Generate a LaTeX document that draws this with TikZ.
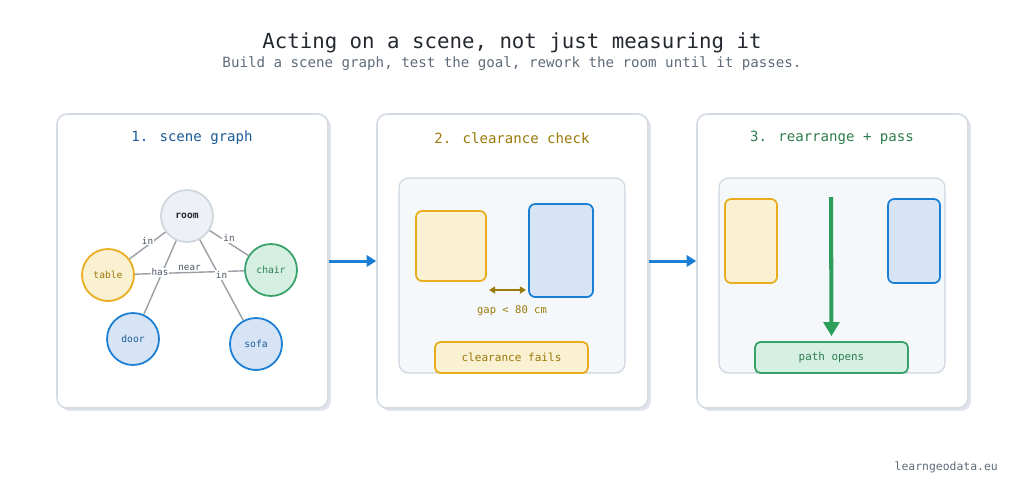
\documentclass[tikz,border=0pt]{standalone}
\usepackage{fontspec}
\setmainfont{DejaVu Sans Mono}
\usepackage{tikz}
\usetikzlibrary{arrows.meta, positioning}

\definecolor{inkdark}{HTML}{24292F}
\definecolor{inkgray}{HTML}{5F6B7A}
\definecolor{labelgray}{HTML}{4B5563}
\definecolor{bluedark}{HTML}{1A5C99}
\definecolor{goldtxt}{HTML}{9A7A0A}
\definecolor{greentxt}{HTML}{2E7D4F}
\definecolor{framec}{HTML}{D5DBE3}
\definecolor{shadowc}{HTML}{E1E4EA}
\definecolor{innerfill}{HTML}{F4F8FB}
\definecolor{yelfill}{HTML}{FAF0D2}
\definecolor{yeldraw}{HTML}{E8AC1C}
\definecolor{grnfill}{HTML}{D5F0E3}
\definecolor{grndraw}{HTML}{38A169}
\definecolor{blufill}{HTML}{D6E4F5}
\definecolor{bludraw}{HTML}{1A7FD4}
\definecolor{roomfill}{HTML}{EDF0F4}
\definecolor{roomdraw}{HTML}{CFD6DE}
\definecolor{edgec}{HTML}{9AA0A6}
\definecolor{arrowgreen}{HTML}{2E9E5B}

\begin{document}
\begin{tikzpicture}[
    x=0.02cm, y=-0.02cm,
    panel/.style={rectangle, rounded corners=5.7pt, draw=framec, line width=0.9pt, fill=white,
        minimum width=5.42cm, minimum height=5.88cm},
    shadowbox/.style={rectangle, rounded corners=5.7pt, fill=shadowc,
        minimum width=5.42cm, minimum height=5.88cm},
    inner/.style={rectangle, rounded corners=5.5pt, draw=roomdraw, line width=0.7pt, fill=innerfill,
        minimum width=4.52cm, minimum height=3.9cm},
    thing/.style={circle, line width=1pt, minimum size=1.04cm, inner sep=0pt,
        font=\fontsize{5.5}{6}\selectfont},
    yelbox/.style={rectangle, rounded corners=3.5pt, draw=yeldraw, fill=yelfill, line width=1pt},
    blubox/.style={rectangle, rounded corners=3.5pt, draw=bludraw, fill=blufill, line width=1pt},
    rel/.style={-, draw=edgec, line width=0.8pt},
    rellabel/.style={fill=white, inner sep=0.6pt, yshift=0.1cm, text=labelgray,
        font=\fontsize{5.3}{6}\selectfont},
    flow/.style={-{Triangle[length=5.5pt, width=6.5pt]}, draw=bludraw, line width=1.7pt}
]
    \useasboundingbox (0,0) rectangle (1024,501);

    % Titles
    \node[text=inkdark, font=\fontsize{11.8}{14}\selectfont] (title) at (512,43) {Acting on a scene, not just measuring it};
    \node[text=inkgray, font=\fontsize{8.05}{10}\selectfont] (subtitle) at (512,64) {Build a scene graph, test the goal, rework the room until it passes.};

    % Panels with shadows
    \foreach \cx/\nm in {192.5/P1, 512.5/P2, 832.5/P3} {
        \node[shadowbox] at (\cx+3,264) {};
        \node[panel] (\nm) at (\cx,261) {};
    }
    \node[text=bluedark, font=\fontsize{8}{10}\selectfont] (t1) at (192,138) {1. scene graph};
    \node[text=goldtxt, font=\fontsize{8}{10}\selectfont] (t2) at (512,138) {2. clearance check};
    \node[text=greentxt, font=\fontsize{8}{10}\selectfont] (t3) at (832,138) {3. rearrange + pass};

    % Panel 1: scene graph
    \node[thing, draw=roomdraw, fill=roomfill, text=inkdark, font=\fontsize{5.5}{6}\selectfont\bfseries] (room) at (187,216) {room};
    \node[thing, draw=yeldraw, fill=yelfill, text=goldtxt] (table) at (108,275) {table};
    \node[thing, draw=grndraw, fill=grnfill, text=greentxt] (chair) at (271,270) {chair};
    \node[thing, draw=bludraw, fill=blufill, text=bluedark] (door) at (133,339) {door};
    \node[thing, draw=bludraw, fill=blufill, text=bluedark] (sofa) at (256,344) {sofa};

    \draw[rel] (table) -- node[rellabel] {near} (chair);
    \draw[rel] (room) -- node[rellabel] {in} (table);
    \draw[rel] (room) -- node[rellabel] {in} (chair);
    \draw[rel] (room) -- node[rellabel] {has} (door);
    \draw[rel] (room) -- node[rellabel] {in} (sofa);

    % Panel 2: clearance check
    \node[inner] (in2) at (512,275.5) {};
    \node[yelbox, minimum width=1.4cm, minimum height=1.4cm] (tbl2) at (451,246) {};
    \node[blubox, minimum width=1.28cm, minimum height=1.86cm] (sofa2) at (561,250.5) {};
    \coordinate (gapL) at (489,290);
    \coordinate (gapR) at (526,290);
    \draw[{Triangle[length=3.5pt, width=4pt]}-{Triangle[length=3.5pt, width=4pt]}, draw=goldtxt, line width=1pt] (gapL) -- (gapR);
    \node[text=goldtxt, font=\fontsize{6}{7}\selectfont] (gap) at (512,311) {gap < 80 cm};
    \node[yelbox, rounded corners=3pt, minimum width=3.06cm, minimum height=0.62cm,
        text=goldtxt, font=\fontsize{6.3}{7}\selectfont] (fail) at (511.5,357.5) {clearance fails};

    % Panel 3: rearrange + pass
    \node[inner] (in3) at (832,275.5) {};
    \node[yelbox, minimum width=1.04cm, minimum height=1.68cm] (tbl3) at (751,241) {};
    \node[blubox, minimum width=1.04cm, minimum height=1.68cm] (sofa3) at (914,241) {};
    \node[rectangle, rounded corners=3pt, draw=grndraw, fill=grnfill, line width=1pt,
        minimum width=3.06cm, minimum height=0.62cm,
        text=greentxt, font=\fontsize{6.2}{7}\selectfont] (open) at (831.5,357.5) {path opens};
    \coordinate (pathtop) at (831,197);
    \draw[-{Triangle[length=8pt, width=9pt]}, draw=arrowgreen, line width=2.3pt] (pathtop) -- ([yshift=0.1cm]open.north);

    % Flow arrows
    \draw[flow] (P1.east) -- (P2.west);
    \draw[flow] (P2.east) -- (P3.west);

    % Footer
    \node[text=inkgray, anchor=east, font=\fontsize{6.5}{8}\selectfont] (foot) at (1004,467) {learngeodata.eu};
\end{tikzpicture}
\end{document}
